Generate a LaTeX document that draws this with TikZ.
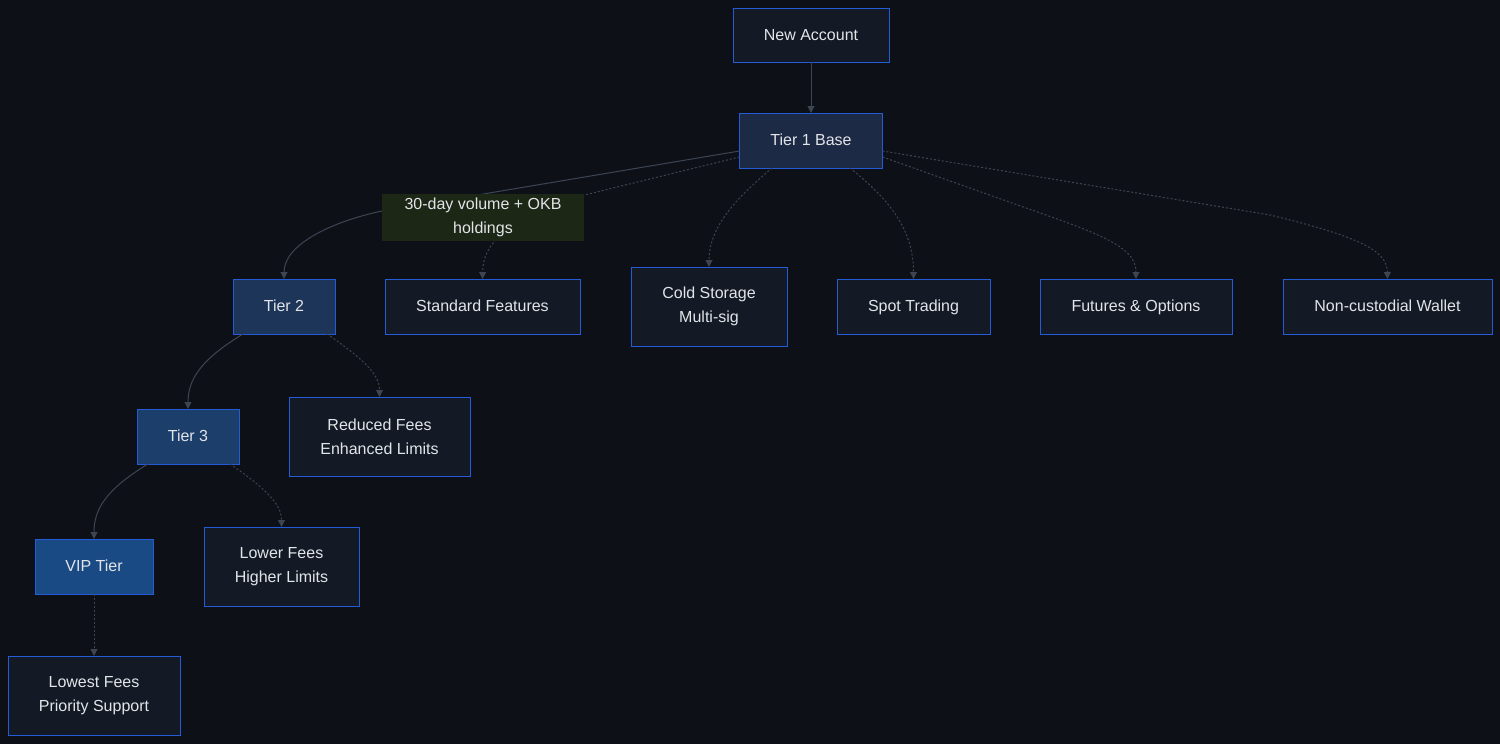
\documentclass[tikz,border=0pt]{standalone}
\usepackage{fontspec}
\setmainfont{Liberation Sans}
\usetikzlibrary{arrows.meta}
\definecolor{bgc}{HTML}{0D1117}
\definecolor{nodefill}{HTML}{131A26}
\definecolor{nodeborder}{HTML}{235CD6}
\definecolor{tieronefill}{HTML}{1C2A45}
\definecolor{tiertwofill}{HTML}{1C3558}
\definecolor{tierthreefill}{HTML}{1B3E6A}
\definecolor{vipfill}{HTML}{1A4A84}
\definecolor{labelfill}{HTML}{1D2716}
\definecolor{edgec}{HTML}{3D4452}
\definecolor{textc}{HTML}{E2E4E8}
\tikzset{
  box/.style={draw=nodeborder, line width=1pt, fill=nodefill, text=textc,
    font=\fontsize{16pt}{24pt}\selectfont, align=center, inner sep=0pt, outer sep=0pt},
  oneline/.style={box, minimum height=55pt, text height=14pt, text depth=4pt},
  twoline/.style={box, minimum height=79pt},
  edgelabel/.style={fill=labelfill, text=textc, font=\fontsize{16pt}{24pt}\selectfont,
    align=center, inner sep=0pt, outer sep=0pt},
  conn/.style={draw=edgec, line width=1pt, -{Triangle[width=7pt,length=7pt]}},
  dotconn/.style={conn, dash pattern=on 2pt off 2pt},
}
\begin{document}
\begin{tikzpicture}[x=1pt,y=-1pt]
\fill[bgc] (0,0) rectangle (1500,744);
\useasboundingbox (0,0) rectangle (1500,744);

% nodes
\node[oneline, minimum width=156pt, minimum height=54pt] (na) at (811,35) {New Account};
\node[oneline, fill=tieronefill, minimum width=143pt] (t1) at (811,140.5) {Tier 1 Base};
\node[oneline, fill=tiertwofill, minimum width=102pt] (t2) at (284,306.5) {Tier 2};
\node[oneline, minimum width=195pt] (sf) at (482.5,306.5) {Standard Features};
\node[twoline, minimum width=156pt] (cs) at (709,306.5) {Cold Storage\\Multi-sig};
\node[oneline, minimum width=153pt] (st) at (913.5,306.5) {Spot Trading};
\node[oneline, minimum width=192pt] (fo) at (1136,306.5) {Futures \& Options};
\node[oneline, minimum width=209pt] (nw) at (1387.5,306.5) {Non-custodial Wallet};
\node[oneline, fill=tierthreefill, minimum width=102pt] (t3) at (188,436.5) {Tier 3};
\node[twoline, minimum width=181pt] (rf) at (379.5,436.5) {Reduced Fees\\Enhanced Limits};
\node[oneline, fill=vipfill, minimum width=118pt] (vip) at (94,566.5) {VIP Tier};
\node[twoline, minimum width=155pt] (lf) at (281.5,566.5) {Lower Fees\\Higher Limits};
\node[twoline, minimum width=172pt] (lw) at (94,695.5) {Lowest Fees\\Priority Support};

% anchor coordinates on node borders
\coordinate (t1a) at ([yshift=-10.5pt]t1.west);
\coordinate (t1b) at ([yshift=-16.5pt]t1.west);
\coordinate (t1c) at ([xshift=-39pt]t1.south);
\coordinate (t1d) at ([xshift=39pt]t1.south);
\coordinate (t1e) at ([yshift=-16.5pt]t1.east);
\coordinate (t1f) at ([yshift=-10.5pt]t1.east);
\coordinate (t2a) at ([xshift=-41pt]t2.south);
\coordinate (t2b) at ([xshift=43pt]t2.south);
\coordinate (t3a) at ([xshift=-40pt]t3.south);
\coordinate (t3b) at ([xshift=42pt]t3.south);

% edges
\draw[conn] (na.south) -- (t1.north);
\draw[conn] (t1a) -- (382,211) .. controls (330,222) and (284,245) .. (t2.north);
\draw[dotconn] (t1b) -- (560,201) .. controls (495,228) and (483,250) .. (sf.north);
\draw[dotconn] (t1c) .. controls (740,195) and (709,225) .. (cs.north);
\draw[dotconn] (t1d) .. controls (890,200) and (913.5,230) .. (st.north);
\draw[dotconn] (t1e) -- (1060,220) .. controls (1115,240) and (1136,252) .. (fo.north);
\draw[dotconn] (t1f) -- (1270,215) .. controls (1365,238) and (1387,252) .. (nw.north);
\draw[conn] (t2a) .. controls (200,360) and (188,380) .. (t3.north);
\draw[dotconn] (t2b) .. controls (365,360) and (379.5,375) .. (rf.north);
\draw[conn] (t3a) .. controls (105,490) and (94,510) .. (vip.north);
\draw[dotconn] (t3b) .. controls (268,490) and (281.5,505) .. (lf.north);
\draw[dotconn] (vip.south) -- (lw.north);

% edge label
\node[edgelabel, minimum width=202pt, minimum height=47pt] (lbl) at (483,217.5) {30-day volume + OKB\\holdings};
\end{tikzpicture}
\end{document}
